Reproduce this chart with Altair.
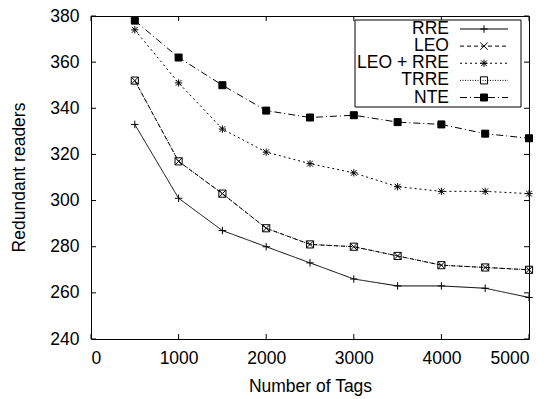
import altair as alt
import pandas as pd

tags = [500, 1000, 1500, 2000, 2500, 3000, 3500, 4000, 4500, 5000]
series_names = ["RRE", "LEO", "LEO + RRE", "TRRE", "NTE"]
rre = [333, 301, 287, 280, 273, 266, 263, 263, 262, 258]
leo = [352, 317, 303, 288, 281, 280, 276, 272, 271, 270]
leo_rre = [374, 351, 331, 321, 316, 312, 306, 304, 304, 303]
trre = [352, 317, 303, 288, 281, 280, 276, 272, 271, 270]
nte = [378, 362, 350, 339, 336, 337, 334, 333, 329, 327]

x_ticks = [0, 1000, 2000, 3000, 4000, 5000]
y_ticks = [240, 260, 280, 300, 320, 340, 360, 380]

values = {"RRE": rre, "LEO": leo, "LEO + RRE": leo_rre, "TRRE": trre, "NTE": nte}
draw_order = ["RRE", "TRRE", "LEO", "LEO + RRE", "NTE"]
rows = []
for s in draw_order:
    for t, v in zip(tags, values[s]):
        rows.append({"series": s, "tags": t, "readers": v})
df = pd.DataFrame(rows)

W, H = 438, 323
FS = 17.5

PLUS = "M-1,0L1,0M0,-1L0,1"
CROSS = "M-1,-1L1,1M-1,1L1,-1"
STAR = "M-1,0L1,0M0,-1L0,1M-0.8,-0.8L0.8,0.8M-0.8,0.8L0.8,-0.8"

dash_scale = alt.Scale(domain=series_names,
                       range=[[1, 0], [4, 3], [2, 3], [1, 1.5], [7, 3, 1, 3]])
shape_scale = alt.Scale(domain=series_names,
                        range=[PLUS, CROSS, STAR, "square", "square"])
fill_scale = alt.Scale(domain=series_names,
                       range=["transparent", "transparent", "transparent", "transparent", "black"])
size_scale = alt.Scale(domain=series_names, range=[56, 49, 56, 36, 36])

AX = dict(domain=False, grid=False, ticks=False, tickSize=0,
          labelFont="Liberation Sans", labelFontSize=FS, labelColor="black",
          titleFont="Liberation Sans", titleFontSize=FS, titleColor="black",
          titleFontWeight="normal")

xs = alt.X("tags:Q", scale=alt.Scale(domain=[0, 5000], nice=False),
           axis=alt.Axis(values=x_ticks, format="d", title="Number of Tags",
                         labelPadding=24, labelBaseline="alphabetic",
                         titleY=52, titleBaseline="alphabetic", **AX))
ys = alt.Y("readers:Q", scale=alt.Scale(domain=[240, 380], nice=False, zero=False),
           axis=alt.Axis(values=y_ticks, format="d", title="Redundant readers", labelPadding=12,
                         titleX=-67, titleY=161, titleBaseline="alphabetic", **AX))

base = alt.Chart(df)
lines = base.mark_line(color="black", strokeWidth=1).encode(
    x=xs, y=ys,
    detail="series:N",
    strokeDash=alt.StrokeDash("series:N", scale=dash_scale, legend=None),
    order="tags:Q",
)
pts = base.mark_point(color="black", strokeWidth=1, opacity=1).encode(
    x="tags:Q", y="readers:Q",
    shape=alt.Shape("series:N", scale=shape_scale, legend=None),
    fill=alt.Fill("series:N", scale=fill_scale, legend=None),
    size=alt.Size("series:N", scale=size_scale, legend=None),
)

xt = pd.DataFrame({"tags": x_ticks})
yt = pd.DataFrame({"readers": y_ticks})
tick_bottom = alt.Chart(xt).mark_rule(color="black", strokeWidth=1).encode(
    x="tags:Q", y=alt.value(H), y2=alt.value(H - 5))
tick_top = alt.Chart(xt).mark_rule(color="black", strokeWidth=1).encode(
    x="tags:Q", y=alt.value(0), y2=alt.value(5))
tick_left = alt.Chart(yt).mark_rule(color="black", strokeWidth=1).encode(
    y="readers:Q", x=alt.value(0), x2=alt.value(5))
tick_right = alt.Chart(yt).mark_rule(color="black", strokeWidth=1).encode(
    y="readers:Q", x=alt.value(W), x2=alt.value(W - 5))

main = alt.layer(lines, tick_bottom, tick_top, tick_left, tick_right, pts)

leg_df = pd.DataFrame({"series": series_names})
ly = alt.Y("series:N", scale=alt.Scale(type="point", domain=series_names,
                                       range=[13, 81.5], padding=0), axis=None)
box = alt.Chart(pd.DataFrame({"a": [0]})).mark_rect(
    fill="white", stroke="black", strokeWidth=1).encode(
    x=alt.value(264), x2=alt.value(430), y=alt.value(4), y2=alt.value(91))
ltext = alt.Chart(leg_df).mark_text(align="right", baseline="middle", fontSize=FS,
                                     font="Liberation Sans", color="black").encode(
    x=alt.value(358), y=ly, text="series:N")
lrule = alt.Chart(leg_df).mark_rule(color="black", strokeWidth=1).encode(
    x=alt.value(369), x2=alt.value(417), y=ly,
    strokeDash=alt.StrokeDash("series:N", scale=dash_scale, legend=None))
lpts = alt.Chart(leg_df).mark_point(color="black", strokeWidth=1, opacity=1).encode(
    x=alt.value(393), y=ly,
    shape=alt.Shape("series:N", scale=shape_scale, legend=None),
    fill=alt.Fill("series:N", scale=fill_scale, legend=None),
    size=alt.Size("series:N", scale=size_scale, legend=None),
)
legend = alt.layer(box, lrule, lpts, ltext)

chart = alt.layer(main, legend).resolve_scale(y="independent").properties(
    width=W, height=H,
    background="white",
    autosize=alt.AutoSizeParams(type="none"),
    padding={"left": 83, "top": 8, "right": 5, "bottom": 60},
).configure_view(stroke="black", strokeWidth=1)

chart.save("out.html", embed_options={"renderer": "svg", "actions": False})
